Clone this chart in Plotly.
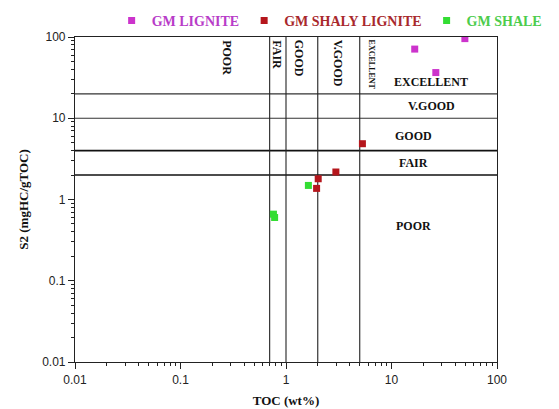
import math
import plotly.graph_objects as go

# Data
lignite_toc = [16.6, 26.3, 49.6]
lignite_s2 = [71.0, 36.5, 95.5]
shaly_toc = [5.3, 2.97, 2.02, 1.95]
shaly_s2 = [4.86, 2.18, 1.80, 1.37]
shale_toc = [1.63, 0.76, 0.78]
shale_s2 = [1.49, 0.66, 0.60]

toc_bounds = [0.7, 1, 2, 5]
s2_bounds = [2, 4, 10, 20]
toc_labels = ["POOR", "FAIR", "GOOD", "V.GOOD", "EXCELLENT"]
toc_label_x = [0.278, 0.825, 1.35, 3.17, 6.59]
s2_labels = ["POOR", "FAIR", "GOOD", "V.GOOD", "EXCELLENT"]
s2_label_y = [0.478, 2.85, 6.03, 14.2, 27.8]
s2_label_x = [16, 16, 16, 24.2, 23.6]

x_ticks = [0.01, 0.1, 1, 10, 100]
y_ticks = [0.01, 0.1, 1, 10, 100]
minor_vals = [m * 10 ** e for e in range(-2, 2) for m in range(2, 10)]

SERIF = "Liberation Serif"
SANS = "Liberation Sans"

fig = go.Figure()

# threshold lines
for i, v in enumerate(s2_bounds):
    fig.add_trace(go.Scatter(x=[0.01, 100], y=[v, v], mode="lines",
                             line=dict(color="#111" if v < 10 else "#333", width=1.6 if v < 10 else 1.2),
                             showlegend=False, hoverinfo="skip"))
for v in toc_bounds:
    fig.add_trace(go.Scatter(x=[v, v], y=[0.01, 100], mode="lines",
                             line=dict(color="#222", width=1.1),
                             showlegend=False, hoverinfo="skip"))

fig.add_trace(go.Scatter(x=lignite_toc, y=lignite_s2, mode="markers",
                         name="<b><span style='color:#b83cc8'>GM LIGNITE</span></b>",
                         marker=dict(symbol="square", size=7, color="#cc33cc")))
fig.add_trace(go.Scatter(x=shaly_toc, y=shaly_s2, mode="markers",
                         name="<b><span style='color:#a8282c'>GM SHALY LIGNITE</span></b>",
                         marker=dict(symbol="square", size=7, color="#b5161c")))
fig.add_trace(go.Scatter(x=shale_toc, y=shale_s2, mode="markers",
                         name="<b><span style='color:#4ccc4c'>GM SHALE</span></b>",
                         marker=dict(symbol="square", size=7, color="#33dd33")))

anns = []
for lab, xv in zip(toc_labels, toc_label_x):
    anns.append(dict(x=math.log10(xv), y=math.log10(100), xref="x", yref="y",
                     text="<b>%s</b>" % lab, showarrow=False, textangle=90,
                     yanchor="top", yshift=-1,
                     font=dict(family=SERIF, size=8 if lab == "EXCELLENT" else 12, color="#111")))
for lab, yv, xv in zip(s2_labels, s2_label_y, s2_label_x):
    anns.append(dict(x=math.log10(xv), y=math.log10(yv), xref="x", yref="y",
                     text="<b>%s</b>" % lab, showarrow=False,
                     font=dict(family=SERIF, size=12, color="#111")))

fig.update_layout(
    width=551, height=401,
    margin=dict(l=67, r=62, t=29, b=47, autoexpand=False),
    paper_bgcolor="white", plot_bgcolor="white",
    showlegend=True,
    legend=dict(orientation="h", x=1.12, xanchor="right", y=1.0, yanchor="bottom",
                font=dict(family=SERIF, size=14), itemsizing="trace",
                bgcolor="rgba(0,0,0,0)", borderwidth=0),
    annotations=anns,
    xaxis=dict(type="log", range=[-2, 2], tickvals=x_ticks, automargin=False,
               ticktext=["0.01", "0.1", "1", "10", "100"],
               ticks="outside", ticklen=6, tickcolor="#222", showgrid=False, zeroline=False,
               showline=True, linecolor="#222", linewidth=1.2, mirror=True,
               tickfont=dict(family=SANS, size=12, color="#222"),
               minor=dict(tickvals=minor_vals, ticks="outside", ticklen=3, tickcolor="#222", showgrid=False),
               title=dict(text="<b>TOC (wt%)</b>", font=dict(family=SERIF, size=13, color="#111"), standoff=10)),
    yaxis=dict(type="log", range=[-2, 2], tickvals=y_ticks, automargin=False,
               ticktext=["0.01", "0.1", "1", "10", "100"],
               ticks="outside", ticklen=6, tickcolor="#222", showgrid=False, zeroline=False,
               showline=True, linecolor="#222", linewidth=1.2, mirror=True,
               tickfont=dict(family=SANS, size=12, color="#222"),
               minor=dict(tickvals=minor_vals, ticks="outside", ticklen=3, tickcolor="#222", showgrid=False),
               title=dict(text="<b>S2 (mgHC/gTOC)</b>", font=dict(family=SERIF, size=13, color="#111"), standoff=10)),
)

fig.write_html("out.html")
